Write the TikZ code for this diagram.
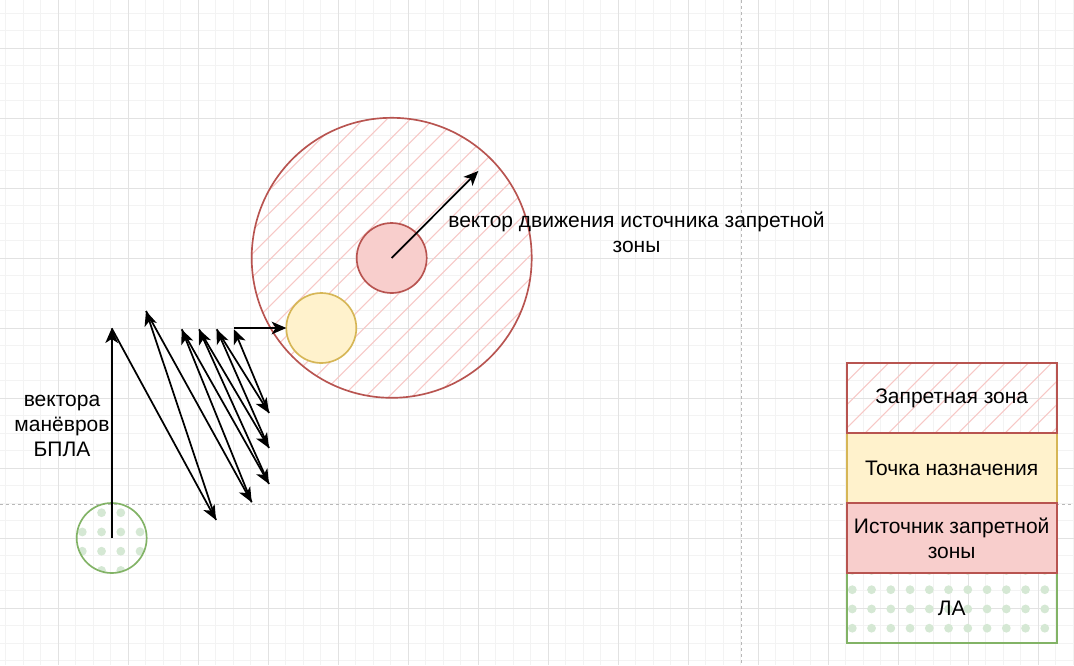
\documentclass[tikz,border=0pt]{standalone}
\usepackage{fontspec}
\setmainfont{Liberation Sans}
\usetikzlibrary{arrows.meta}
\definecolor{zonestroke}{HTML}{B85450}
\definecolor{zonefill}{HTML}{F8CECC}
\definecolor{hatchcol}{HTML}{F7C8C6}
\definecolor{tgtfill}{HTML}{FFF2CC}
\definecolor{tgtstroke}{HTML}{D6B656}
\definecolor{lastroke}{HTML}{82B366}
\definecolor{lafill}{HTML}{D5E8D4}
\definecolor{gridminor}{HTML}{F3F3F3}
\definecolor{gridmajor}{HTML}{E2E2E2}
\definecolor{pbcolor}{HTML}{B8B8B8}
\tikzset{
  minorgrid/.style={draw=gridminor, line width=0.75pt},
  majorgrid/.style={draw=gridmajor, line width=0.75pt},
  pagebreak/.style={draw=pbcolor, line width=0.75pt, dash pattern=on 2.25pt off 2.25pt},
  vec/.style={draw=black, line width=1.3pt, -{Stealth[length=11pt,width=9.5pt,inset=3pt]}},
  lbl/.style={font=\fontsize{15.75pt}{18.75pt}\selectfont, align=center, inner sep=0pt},
  hatchline/.style={draw=hatchcol, line width=0.8pt},
  dotmark/.style={fill=lafill},
  disc/.style={circle, minimum size=52.5pt, inner sep=0pt, outer sep=0pt, line width=1.25pt},
  bigdisc/.style={circle, minimum size=210pt, inner sep=0pt, outer sep=0pt, line width=1.25pt},
  legendbox/.style={rectangle, minimum width=157.5pt, minimum height=52.5pt, inner sep=0pt, outer sep=0pt, line width=1.25pt, font=\fontsize{15.75pt}{18.75pt}\selectfont, align=center}
}
\newcommand{\myhatch}[1]{\foreach \k in {#1} {\draw[hatchline] ({16.7+23.3*\k},0) -- ++(-700,700);}}
\newcommand{\mydots}[2]{\foreach \i in {#1} {\foreach \j in {#2} {\fill[dotmark] ({5.3+19.25*\i},{12.2+19.25*\j}) circle[radius=3.3pt];}}}
\begin{document}
\begin{tikzpicture}[x=0.75pt,y=-0.75pt]
\useasboundingbox (0,0) rectangle (1074,665);
\fill[white] (0,0) rectangle (1074,665);
% grid
\foreach \i in {0,...,61} {\draw[minorgrid] ({5.8+17.5*\i},0) -- ++(0,665);}
\foreach \j in {0,...,37} {\draw[minorgrid] (0,{13.3+17.5*\j}) -- ++(1074,0);}
\foreach \i in {0,...,14} {\draw[majorgrid] ({58.3+70*\i},0) -- ++(0,665);}
\foreach \j in {0,...,8} {\draw[majorgrid] (0,{48.3+70*\j}) -- ++(1074,0);}
% page breaks
\coordinate (pbT) at (741.7,0);
\coordinate (pbB) at (741.7,665);
\coordinate (pbL) at (0,504);
\coordinate (pbR) at (1074,504);
\draw[pagebreak] (pbT) -- (pbB);
\draw[pagebreak] (pbL) -- (pbR);
% fills (hatch / dots)
\begin{scope}
  \clip (391.7,257.8) circle[radius=105pt];
  \myhatch{18,...,36}
\end{scope}
\begin{scope}
  \clip (111.7,538) circle[radius=26.25pt];
  \mydots{4,...,7}{26,...,29}
\end{scope}
\begin{scope}
  \clip (846.7,363.3) rectangle (1056.7,433.3);
  \myhatch{51,...,64}
\end{scope}
\begin{scope}
  \clip (846.7,573.3) rectangle (1056.7,643.3);
  \mydots{44,...,54}{29,...,32}
\end{scope}
% shapes
\node[bigdisc, draw=zonestroke] (zone) at (391.7,257.8) {};
\node[disc, draw=zonestroke, fill=zonefill] (src) at (391.7,258) {};
\node[disc, draw=tgtstroke, fill=tgtfill] (tgt) at (321.3,328) {};
\node[disc, draw=lastroke] (la) at (111.7,538) {};
% legend
\node[legendbox, draw=lastroke] (lla) at (951.7,608.3) {ЛА};
\node[legendbox, draw=tgtstroke, fill=tgtfill] (ltgt) at (951.7,468.3) {Точка назначения};
\node[legendbox, draw=zonestroke] (lzone) at (951.7,398.3) {Запретная зона};
\node[legendbox, draw=zonestroke, fill=zonefill] (lsrc) at (951.7,538.3) {Источник запретной\\зоны};
% manoeuvre vectors
\coordinate (p1) at (111.7,328.3);
\coordinate (p2) at (216,520);
\coordinate (p3) at (146,311);
\coordinate (p4) at (251.7,502.3);
\coordinate (p5) at (181.7,329.3);
\coordinate (p6) at (269,484);
\coordinate (p7) at (199,329.3);
\coordinate (p8) at (269,448);
\coordinate (p9) at (216.7,329.3);
\coordinate (p10) at (269,413);
\coordinate (p11) at (234,329.3);
\coordinate (p11b) at (234,328);
\draw[vec] (la.center) -- (p1);
\draw[vec] (p1) -- (p2);
\draw[vec] (p2) -- (p3);
\draw[vec] (p3) -- (p4);
\draw[vec] (p4) -- (p5);
\draw[vec] (p5) -- (p6);
\draw[vec] (p6) -- (p7);
\draw[vec] (p7) -- (p8);
\draw[vec] (p8) -- (p9);
\draw[vec] (p9) -- (p10);
\draw[vec] (p10) -- (p11);
\draw[vec] (p11b) -- (tgt.west);
% source motion vector
\coordinate (mv) at (478.3,171);
\draw[vec] (src.center) -- (mv);
% labels
\node[lbl] (mvlbl) at (636.5,232.5) {вектор движения источника запретной\\зоны};
\node[lbl] (vlbl) at (62,426) {вектора\\манёвров\\БПЛА};
\end{tikzpicture}
\end{document}
